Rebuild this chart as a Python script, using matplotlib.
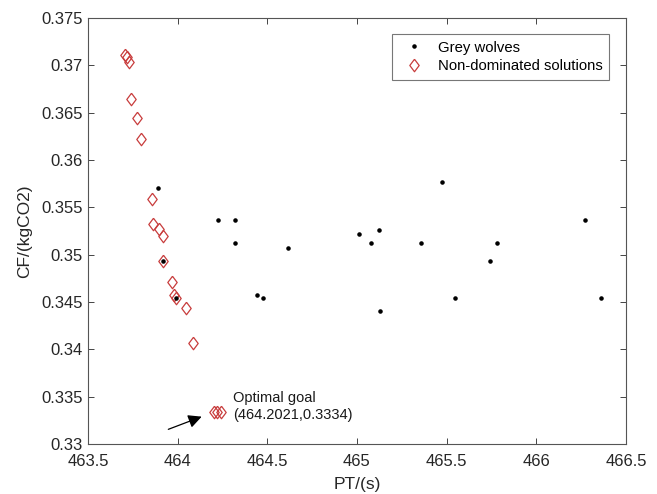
import numpy as np
import matplotlib.pyplot as plt

plt.rcParams['font.family'] = ['Liberation Sans', 'DejaVu Sans']

# grey wolves (black dots)
wolf_pt = [463.89, 463.92, 463.99, 464.227, 464.32, 464.32, 464.443, 464.478,
           464.617, 465.013, 465.077, 465.121, 465.130, 465.355, 465.473,
           465.545, 465.740, 465.779, 466.274, 466.363]
wolf_cf = [0.35704, 0.34933, 0.34539, 0.35369, 0.3537, 0.35124, 0.34574, 0.34542,
           0.35071, 0.35222, 0.35124, 0.35257, 0.34408, 0.35124, 0.35768,
           0.34542, 0.34936, 0.35124, 0.3537, 0.34542]

# non-dominated solutions (red diamonds)
nd_pt = [463.706, 463.716, 463.729, 463.742, 463.772, 463.796, 463.857, 463.861,
         463.896, 463.916, 463.920, 463.967, 463.980, 463.991, 464.045, 464.086,
         464.203, 464.221, 464.240]
nd_cf = [0.37110, 0.37091, 0.37038, 0.36648, 0.36441, 0.36225, 0.35591, 0.35321,
         0.35268, 0.35197, 0.34933, 0.34708, 0.34574, 0.34539, 0.34440, 0.34070,
         0.33341, 0.33341, 0.33341]

xticks = [463.5, 464, 464.5, 465, 465.5, 466, 466.5]
xlabels = ['463.5', '464', '464.5', '465', '465.5', '466', '466.5']
yticks = [0.33, 0.335, 0.34, 0.345, 0.35, 0.355, 0.36, 0.365, 0.37, 0.375]
ylabels = ['0.33', '0.335', '0.34', '0.345', '0.35', '0.355', '0.36', '0.365', '0.37', '0.375']

fig = plt.figure(figsize=(6.57, 4.94), dpi=100)
ax = fig.add_axes([0.1339, 0.1012, 0.8189, 0.8624])

diamond = [(0, 1), (0.75, 0), (0, -1), (-0.75, 0), (0, 1)]
red = '#c83c3c'

ax.plot(nd_pt, nd_cf, linestyle='none', marker=diamond, markersize=9,
        markerfacecolor='none', markeredgecolor=red, markeredgewidth=0.9,
        label='Non-dominated solutions', zorder=2)
ax.plot(wolf_pt, wolf_cf, linestyle='none', marker='.', markersize=4.5,
        color='black', label='Grey wolves', zorder=3)

ax.text(464.307, 0.33394, 'Optimal goal\n(464.2021,0.3334)', va='center',
        ha='left', fontsize=10.5, linespacing=1.3, color='#1a1a1a')
ax.annotate('', xy=(464.134, 0.33289), xytext=(463.948, 0.33155),
            arrowprops=dict(arrowstyle='-|>', color='black', lw=0.9,
                            mutation_scale=20, shrinkA=0, shrinkB=0))

ax.set_xlim(463.5, 466.5)
ax.set_ylim(0.33, 0.375)
ax.set_xticks(xticks)
ax.set_xticklabels(xlabels)
ax.set_yticks(yticks)
ax.set_yticklabels(ylabels)
ax.tick_params(direction='in', top=True, right=True, labelsize=12,
               colors='#262626', length=4, width=0.6)
ax.tick_params(axis='x', pad=7)
ax.tick_params(axis='y', pad=4)
for s in ax.spines.values():
    s.set_color('#555555')
    s.set_linewidth(0.8)

ax.set_xlabel('PT/(s)', fontsize=12.5, color='#262626', labelpad=6)
ax.set_ylabel('CF/(kgCO2)', fontsize=12.5, color='#262626', labelpad=6)

h, l = ax.get_legend_handles_labels()
leg = ax.legend(h[::-1], l[::-1], loc='upper right', bbox_to_anchor=(0.9684, 0.9624),
                borderaxespad=0, fontsize=10.7, frameon=True, fancybox=False,
                edgecolor='#555555', borderpad=0.45, handletextpad=0.6,
                labelspacing=0.3)
leg.get_frame().set_linewidth(0.8)

fig.savefig('out.png', dpi=100)
